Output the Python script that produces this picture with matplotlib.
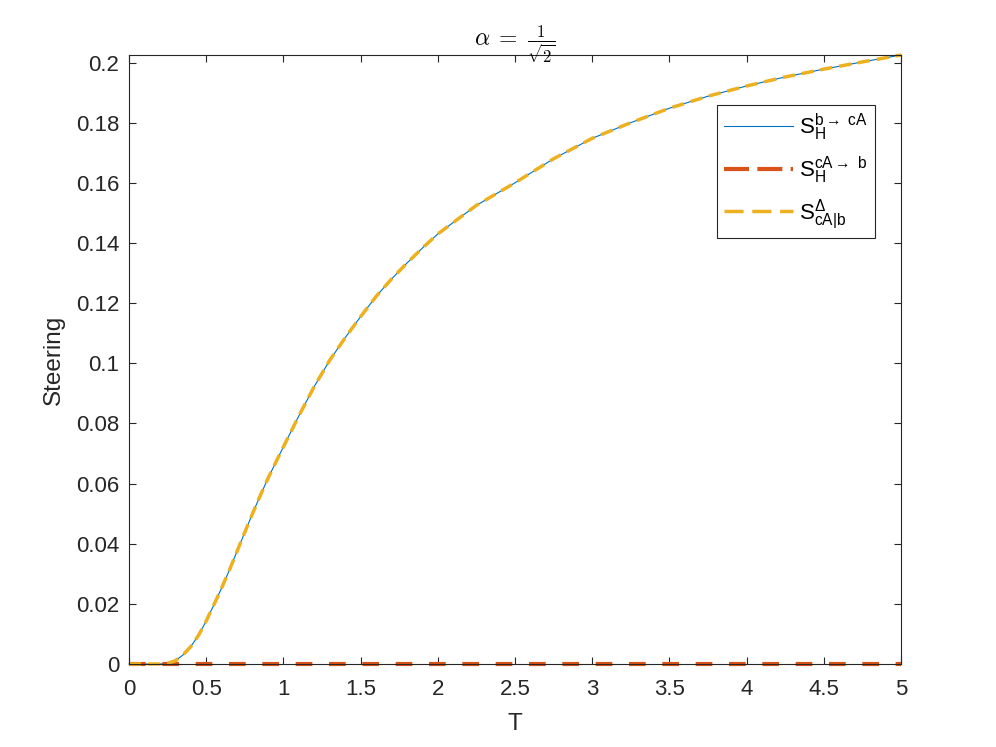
import matplotlib
matplotlib.use("Agg")
import matplotlib.pyplot as plt
from matplotlib.font_manager import FontProperties
from matplotlib.lines import Line2D

plt.rcParams['font.family'] = ['Liberation Sans', 'DejaVu Sans']
plt.rcParams['mathtext.fontset'] = 'custom'
plt.rcParams['mathtext.rm'] = 'Liberation Sans'
plt.rcParams['mathtext.it'] = 'Liberation Sans:italic'

# значения
T = [0.0, 0.1, 0.2, 0.25, 0.3, 0.35, 0.4, 0.45, 0.5, 0.55, 0.6, 0.65, 0.7,
     0.75, 0.8, 0.85, 0.9, 0.95, 1.0, 1.1, 1.2, 1.3, 1.4, 1.5, 1.6, 1.7,
     1.8, 1.9, 2.0, 2.25, 2.5, 2.75, 3.0, 3.25, 3.5, 3.75, 4.0, 4.25, 4.5,
     4.75, 5.0]
S_b_cA = [0.0, 0.0, 0.0, 0.0002, 0.0011, 0.0030, 0.0058, 0.0095, 0.0143,
          0.0197, 0.0253, 0.0312, 0.0375, 0.0438, 0.0500, 0.0560, 0.0617,
          0.0670, 0.0722, 0.0825, 0.0923, 0.1010, 0.1085, 0.1155, 0.1222,
          0.1280, 0.1333, 0.1383, 0.1430, 0.1525, 0.1600, 0.1680, 0.1748,
          0.1800, 0.1848, 0.1888, 0.1922, 0.1952, 0.1978, 0.2002, 0.2025]
S_cA_b = [0.0] * len(T)
S_delta = S_b_cA

labels = [r'$\mathrm{S}_\mathrm{H}^{\mathrm{b}\rightarrow\ \mathrm{cA}}$',
          r'$\mathrm{S}_\mathrm{H}^{\mathrm{cA}\rightarrow\ \mathrm{b}}$',
          r'$\mathrm{S}_{\mathrm{cA|b}}^{\Delta}$']
colors = ['#0072BD', '#D95319', '#EDB120']

fig = plt.figure(figsize=(9.96, 7.47), dpi=100)
ax = fig.add_axes([129 / 996, 1 - 664 / 747, 772 / 996, 609 / 747])

ax.plot(T, S_b_cA, color=colors[0], lw=0.8, clip_on=False)
ax.plot(T, S_cA_b, color=colors[1], lw=3.0, dashes=(4, 4), clip_on=False)
ax.plot(T, S_delta, color=colors[2], lw=2.5, dashes=(3.5, 2), clip_on=False)

ax.set_xlim(0, 5)
ax.set_ylim(0, 0.2025)
ax.set_xticks([0, 0.5, 1, 1.5, 2, 2.5, 3, 3.5, 4, 4.5, 5])
ax.set_xticklabels(['0', '0.5', '1', '1.5', '2', '2.5', '3', '3.5', '4', '4.5', '5'])
ax.set_yticks([0, 0.02, 0.04, 0.06, 0.08, 0.1, 0.12, 0.14, 0.16, 0.18, 0.2])
ax.set_yticklabels(['0', '0.02', '0.04', '0.06', '0.08', '0.1', '0.12',
                    '0.14', '0.16', '0.18', '0.2'])
ax.tick_params(direction='in', length=5, width=0.8, labelsize=16,
               top=True, right=True, colors='#262626')
ax.tick_params(axis='x', pad=11)
ax.tick_params(axis='y', pad=7)
for sp in ax.spines.values():
    sp.set_color('#262626')
    sp.set_linewidth(0.8)

ax.set_xlabel('T', fontsize=17.5, color='#262626', labelpad=9)
ax.set_ylabel('Steering', fontsize=17.5, color='#262626', labelpad=8)
ax.set_title(r'$\alpha\;=\;\frac{1}{\sqrt{2}}$', fontsize=17, math_fontfamily='cm', pad=6)

# в легенде штрихи длиннее, как в оригинале
handles = [Line2D([], [], color=colors[0], lw=0.8),
           Line2D([], [], color=colors[1], lw=3.0, dashes=(6, 2)),
           Line2D([], [], color=colors[2], lw=2.5, dashes=(5.5, 2.5))]
leg = ax.legend(handles, labels, loc='upper right', bbox_to_anchor=(0.966, 0.918),
                prop=FontProperties(family='Liberation Sans', size=16),
                fancybox=False, edgecolor='#262626', framealpha=1,
                handlelength=3.1, handletextpad=0.3, borderpad=0.3,
                borderaxespad=0, labelspacing=0.52)
leg.get_frame().set_linewidth(0.8)

fig.savefig('out.png', dpi=100)
